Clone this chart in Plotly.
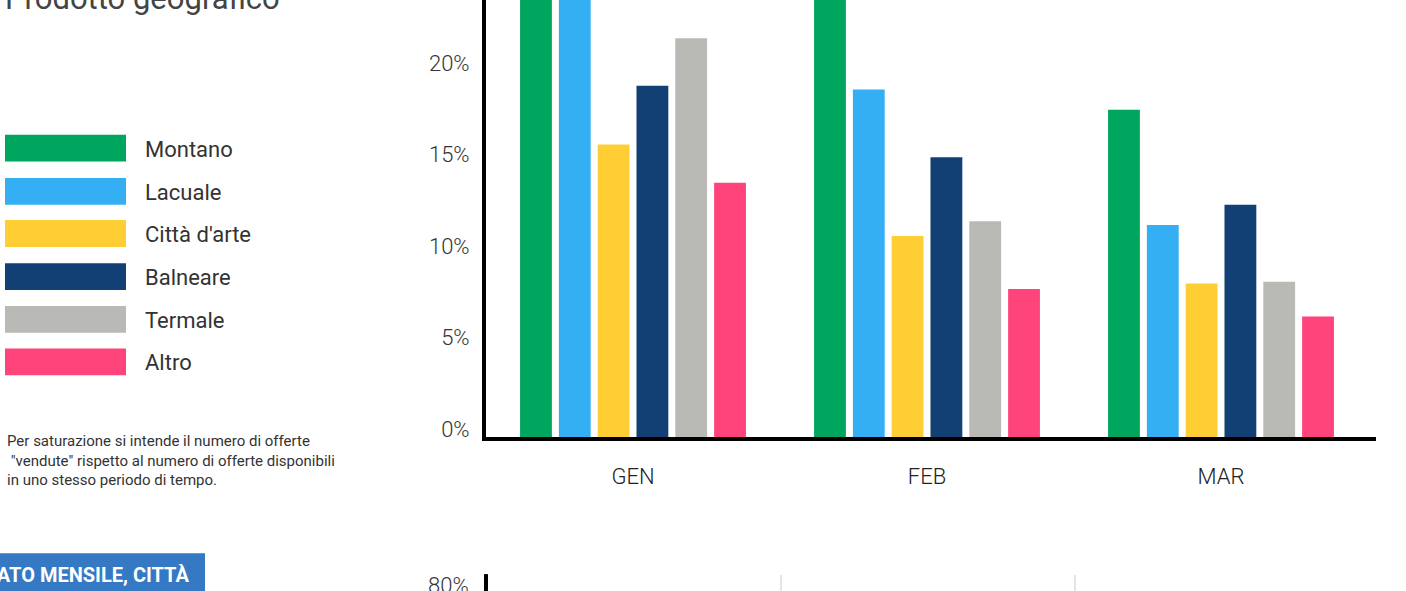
import plotly.graph_objects as go

W, H = 1406, 591
H_LAYOUT = 591

months = ["GEN", "FEB", "MAR"]
series_names = ["Montano", "Lacuale", "Città d'arte", "Balneare", "Termale", "Altro"]
series_colors = ["#00A65D", "#35AFF3", "#FFCE34", "#134074", "#B9BAB6", "#FF447C"]
montano = [31.0, 27.5, 17.9]
lacuale = [28.0, 19.0, 11.6]
citta_arte = [16.0, 11.0, 8.4]
balneare = [19.2, 15.3, 12.7]
termale = [21.8, 11.8, 8.5]
altro = [13.9, 8.1, 6.6]
series_values = [montano, lacuale, citta_arte, balneare, termale, altro]
y_ticks = [0, 5, 10, 15, 20]
y_tick_labels = ["0%", "5%", "10%", "15%", "20%"]

FONT = "Roboto"


def px(x):
    return x / W


def py(y):
    return (H - y) / H


fig = go.Figure()
for name, color, vals in zip(series_names, series_colors, series_values):
    fig.add_trace(go.Bar(x=months, y=vals, name=name, marker=dict(color=color, line=dict(width=0)),
                         showlegend=False))

shapes = []
annotations = []

# custom legend
leg_centers = [149.5, 193, 235.5, 279, 322, 365]
for name, color, cy in zip(series_names, series_colors, leg_centers):
    shapes.append(dict(type="rect", xref="paper", yref="paper", x0=px(5), x1=px(126),
                       y0=py(cy + 13.5), y1=py(cy - 13.5), fillcolor=color, line=dict(width=0)))
    annotations.append(dict(xref="paper", yref="paper", x=px(143), y=py(cy + 1), text=name,
                            xanchor="left", yanchor="middle", showarrow=False,
                            font=dict(family=FONT, size=22, color="#333333")))

# title (cut at top)
annotations.append(dict(xref="paper", yref="paper", x=px(3), y=py(-2), text="Prodotto geografico",
                        xanchor="left", yanchor="middle", showarrow=False,
                        font=dict(family=FONT, size=31, color="#444444")))

# footnote
annotations.append(dict(xref="paper", yref="paper", x=px(5), y=py(434),
                        text="Per saturazione si intende il numero di offerte<br>&nbsp;\"vendute\" rispetto al numero di offerte disponibili<br>in uno stesso periodo di tempo.",
                        xanchor="left", yanchor="top", align="left", showarrow=False,
                        font=dict(family=FONT, size=15, color="#333333")))

# blue section label box
shapes.append(dict(type="rect", xref="paper", yref="paper", x0=px(-5), x1=px(205), y0=py(600), y1=py(558),
                   fillcolor="#3579C5", line=dict(width=0)))
annotations.append(dict(xref="paper", yref="paper", x=px(191), y=py(580), text="<b>DATO MENSILE, CITTÀ</b>",
                        xanchor="right", yanchor="middle", showarrow=False,
                        font=dict(family=FONT, size=20, color="#FFFFFF")))

# next chart start (bottom)
shapes.append(dict(type="line", xref="paper", yref="paper", x0=px(486), x1=px(486), y0=py(600), y1=py(579),
                   line=dict(color="#000000", width=4)))
for gx in [781, 1075]:
    shapes.append(dict(type="line", xref="paper", yref="paper", x0=px(gx), x1=px(gx), y0=py(600), y1=py(580),
                       line=dict(color="#DDDDDD", width=1.5)))
annotations.append(dict(xref="paper", yref="paper", x=px(471), y=py(590), text="80%",
                        xanchor="right", yanchor="middle", showarrow=False,
                        font=dict(family=FONT, size=22, color="#333333", weight=300)))

fig.update_layout(
    width=W, height=H_LAYOUT,
    margin=dict(l=0, r=0, t=0, b=0),
    paper_bgcolor="white", plot_bgcolor="white",
    barmode="group", bargap=0.208, bargroupgap=0.18,
    shapes=shapes, annotations=annotations,
    xaxis=dict(domain=[px(486), px(1376)], range=[-0.5, 2.5 + 8 / 294], showline=True, linecolor="#000000",
               linewidth=4, showgrid=False, ticks="",
               tickfont=dict(family=FONT, size=22, color="#222222", weight=300),
               ticklabelstandoff=16, fixedrange=True),
    yaxis=dict(domain=[py(441), 1.0], range=[0, 441 / 18.46], showline=True, linecolor="#000000", linewidth=4,
               showgrid=False, zeroline=False, tickvals=y_ticks, ticktext=y_tick_labels, ticks="",
               tickfont=dict(family=FONT, size=22, color="#333333", weight=300), ticklabelshift=-8,
               ticklabelstandoff=8, fixedrange=True),
)

fig.write_html(
    "out.html",
    config={"responsive": False, "displayModeBar": False},
    post_script="document.body.style.margin='0';document.body.style.overflow='hidden';",
)
